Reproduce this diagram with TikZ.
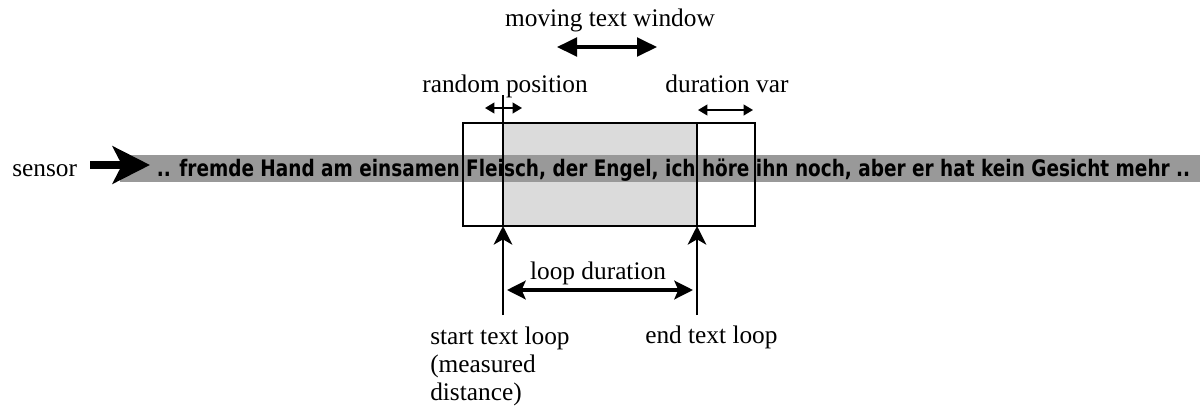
\documentclass[tikz,border=0pt]{standalone}
\usepackage{fontspec}
\setmainfont{Liberation Serif}
\newfontfamily\bandfont{DejaVu Sans}
\usetikzlibrary{arrows.meta}
\begin{document}
\begin{tikzpicture}[x=0.75pt,y=-0.75pt,
  lbl/.style={font=\fontsize{19}{21}\selectfont, inner sep=0pt},
  frame/.style={draw=black, line width=1.1pt},
  bigdbl/.style={line width=2.6pt, {Triangle[length=15pt,width=14pt]}-{Triangle[length=15pt,width=14pt]}},
  smalldbl/.style={line width=1.4pt, {Triangle[length=7pt,width=8pt]}-{Triangle[length=7pt,width=8pt]}},
  uparrow/.style={line width=1.7pt, -{Stealth[length=14pt,width=14pt,inset=4pt]}},
  loopdbl/.style={line width=2.4pt, {Stealth[length=14pt,width=14pt,inset=3pt]}-{Stealth[length=14pt,width=14pt,inset=3pt]}}
]
\useasboundingbox (0,0) rectangle (1204,408);
% shaded window
\fill[gray!28] (503,123) rectangle (697,226);
% band
\fill[black!40] (120,155) rectangle (1200,182);
\node[inner sep=0pt, anchor=base] (band) at (673.5,176)
  {\resizebox{775pt}{13.2pt}{\bandfont\bfseries .. fremde Hand am einsamen Fleisch, der Engel, ich höre ihn noch, aber er hat kein Gesicht mehr ..}};
% box
\coordinate (bTL) at (463,123);
\coordinate (bBR) at (755,226);
\draw[frame] (bTL) rectangle (bBR);
\coordinate (sTop) at (503,95);
\coordinate (sBot) at (503,226);
\coordinate (eTop) at (697,123);
\coordinate (eBot) at (697,226);
\draw[frame] (sTop) -- (sBot);
\draw[frame] (eTop) -- (eBot);
% sensor
\node[lbl, anchor=base west] (sensor) at (12,176) {sensor};
\coordinate (sA) at (90,165);
\coordinate (sB) at (150,165);
\draw[line width=6pt, -{Stealth[length=28pt,width=28pt,inset=7pt]}] (sA) -- (sB);
% top labels
\node[lbl, anchor=base] (mtw) at (610,26) {moving text window};
\coordinate (m1) at (557,47);
\coordinate (m2) at (657,47);
\draw[bigdbl] (m1) -- (m2);
\node[lbl, anchor=base] (rp) at (505,92) {random position};
\coordinate (r1) at (485,108);
\coordinate (r2) at (522,108);
\draw[smalldbl] (r1) -- (r2);
\node[lbl, anchor=base] (dv) at (727,92) {duration var};
\coordinate (d1) at (698,110);
\coordinate (d2) at (753,110);
\draw[smalldbl] (d1) -- (d2);
% bottom
\coordinate (s0) at (503,315);
\coordinate (e0) at (697,315);
\draw[uparrow] (s0) -- (sBot);
\draw[uparrow] (e0) -- (eBot);
\node[lbl, anchor=base] (ld) at (598,279) {loop duration};
\coordinate (l1) at (507,290);
\coordinate (l2) at (693,290);
\draw[loopdbl] (l1) -- (l2);
\node[lbl, anchor=north west, align=left, font=\fontsize{19}{21}\selectfont] (stl) at (430,327) {start text loop\\(measured\\distance)};
\node[lbl, anchor=base west] (etl) at (645,343) {end text loop};
\end{tikzpicture}
\end{document}
